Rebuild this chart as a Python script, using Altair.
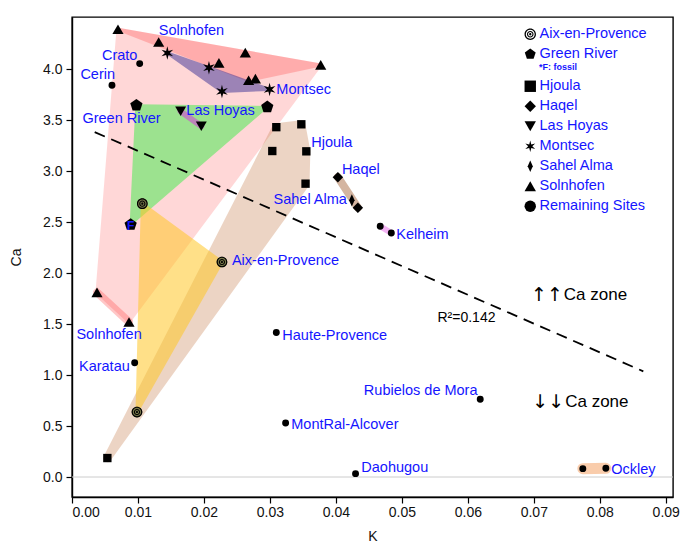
import altair as alt
import pandas as pd

FONT = "Liberation Sans"
BLUE = "#1515ff"

# ---------------- data ----------------
aix_k = [0.01066, 0.02273, 0.00985]
aix_ca = [2.68, 2.108, 0.637]

gr_k = [0.00976, 0.0296, 0.00889]
gr_ca = [3.644, 3.628, 2.474]
gr_fossil = [False, False, True]

hjoula_k = [0.03097, 0.03476, 0.03036, 0.03552, 0.0354, 0.00536]
hjoula_ca = [3.43, 3.458, 3.196, 3.193, 2.876, 0.186]

haqel_k = [0.0403, 0.04333]
haqel_ca = [2.94, 2.641]

lashoyas_k = [0.01647, 0.0196]
lashoyas_ca = [3.585, 3.44]

montsec_k = [0.01445, 0.02076, 0.02273, 0.02995]
montsec_ca = [4.157, 4.013, 3.78, 3.80]

sahel_k = [0.04242]
sahel_ca = [2.713]

soln_upper_k = [0.00697, 0.01314, 0.02627, 0.02227, 0.0377, 0.02677, 0.0278]
soln_upper_ca = [4.39, 4.265, 4.16, 4.06, 4.04, 3.89, 3.905]
soln_lower_k = [0.00379, 0.00864]
soln_lower_ca = [1.81, 1.52]

rem_names = ["Crato", "Cerin", "Karatau", "Haute-Provence", "MontRal-Alcover",
             "Daohugou", "Rubielos de Mora", "Kelheim", "Kelheim", "Ockley", "Ockley"]
rem_k = [0.01026, 0.00606, 0.0095, 0.03097, 0.03238, 0.04298, 0.06188,
         0.04672, 0.0484, 0.07743, 0.08092]
rem_ca = [4.053, 3.84, 1.121, 1.416, 0.53, 0.033, 0.762, 2.458, 2.392, 0.082, 0.085]

reg_k = [0.00344, 0.0866]
reg_ca = [3.382, 1.036]

# point labels: text, K, Ca (anchor), alignment
lab_text = ["Solnhofen", "Crato", "Cerin", "Montsec", "Green River", "Las Hoyas",
            "Hjoula", "Haqel", "Sahel Alma", "Kelheim", "Aix-en-Provence",
            "Solnhofen", "Haute-Provence", "Karatau", "MontRal-Alcover",
            "Daohugou", "Rubielos de Mora", "Ockley"]
lab_k = [0.01315, 0.00991, 0.00127, 0.03097, 0.00158, 0.01733,
         0.03627, 0.04091, 0.04167, 0.04915, 0.02424,
         0.00067, 0.03188, 0.00106, 0.03324,
         0.04385, 0.06147, 0.08173]
lab_ca = [4.369, 4.127, 3.938, 3.798, 3.514, 3.588,
          3.278, 3.014, 2.713, 2.37, 2.118,
          1.396, 1.382, 1.078, 0.507,
          0.092, 0.843, 0.066]
lab_align = ["left", "right", "left", "left", "left", "left",
             "left", "left", "right", "left", "left",
             "left", "left", "left", "left",
             "left", "right", "left"]

# zone annotations
arrow_text = ["\u2191\u2191", "\u2193\u2193"]
zone_text = ["Ca zone", "Ca zone"]
zone_k = [0.07455, 0.07476]
zone_ca = [1.781, 0.735]

legend_a = ["Aix-en-Provence", "Green River"]
legend_b = ["Hjoula", "Haqel", "Las Hoyas", "Montsec", "Sahel Alma", "Solnhofen",
            "Remaining Sites"]

# ---------------- shapes & styles ----------------
def circ(r, s):
    return f"M{r},0A{r},{r} 0 1,{s} {-r},0A{r},{r} 0 1,{s} {r},0Z"

SPIRAL = circ(1, 1) + circ(0.78, 0) + circ(0.58, 1) + circ(0.38, 0) + circ(0.2, 1)
PENTAGON = "M0,-1L0.951,-0.309L0.588,0.809L-0.588,0.809L-0.951,-0.309Z"
STAR = ("M0,-1L0.18,-0.31L0.866,-0.5L0.36,0L0.866,0.5L0.18,0.31L0,1L-0.18,0.31"
        "L-0.866,0.5L-0.36,0L-0.866,-0.5L-0.18,-0.31Z")
THIN_DIAMOND = "M0,-1L0.45,0L0,1L-0.45,0Z"

shape_of = {
    "Aix-en-Provence": SPIRAL, "Green River": PENTAGON, "Hjoula": "square",
    "Haqel": "diamond", "Las Hoyas": "triangle-down", "Montsec": STAR,
    "Sahel Alma": THIN_DIAMOND, "Solnhofen": "triangle-up", "Remaining Sites": "circle",
}
size_of = {
    "Aix-en-Provence": 115, "Green River": 165, "Hjoula": 70, "Haqel": 110,
    "Las Hoyas": 120, "Montsec": 180, "Sahel Alma": 150, "Solnhofen": 125,
    "Remaining Sites": 48,
}

# ---------------- build tables ----------------
rows = []
def add(cat, ks, cas):
    for k, c in zip(ks, cas):
        rows.append({"K": k, "Ca": c, "cat": cat, "sz": size_of[cat]})

add("Aix-en-Provence", aix_k, aix_ca)
add("Green River", gr_k, gr_ca)
add("Hjoula", hjoula_k, hjoula_ca)
add("Haqel", haqel_k, haqel_ca)
add("Las Hoyas", lashoyas_k, lashoyas_ca)
add("Montsec", montsec_k, montsec_ca)
add("Sahel Alma", sahel_k, sahel_ca)
add("Solnhofen", soln_upper_k + soln_lower_k, soln_upper_ca + soln_lower_ca)
add("Remaining Sites", rem_k, rem_ca)
pts = pd.DataFrame(rows)
pts_a = pts[pts["cat"].isin(legend_a)]
pts_b = pts[pts["cat"].isin(legend_b)]


def hull(points):
    p = sorted(set(points))
    if len(p) <= 2:
        return p
    def cross(o, a, b):
        return (a[0] - o[0]) * (b[1] - o[1]) - (a[1] - o[1]) * (b[0] - o[0])
    lo, up = [], []
    for q in p:
        while len(lo) >= 2 and cross(lo[-2], lo[-1], q) <= 0:
            lo.pop()
        lo.append(q)
    for q in reversed(p):
        while len(up) >= 2 and cross(up[-2], up[-1], q) <= 0:
            up.pop()
        up.append(q)
    h = lo[:-1] + up[:-1]
    return h + [h[0]]


groups = [
    (list(zip(soln_upper_k + soln_lower_k, soln_upper_ca + soln_lower_ca)), "#ff1a1a", 0.17, 3),
    (list(zip(soln_upper_k, soln_upper_ca)), "#ff1a1a", 0.22, 3),
    (list(zip(soln_lower_k, soln_lower_ca)), "#ff1a1a", 0.24, 8),
    (list(zip(gr_k, gr_ca)), "#6ee86e", 0.68, 2),
    (list(zip(montsec_k, montsec_ca)), "#3c3296", 0.5, 3),
    (list(zip(lashoyas_k, lashoyas_ca)), "#c46ec4", 0.8, 6),
    (list(zip(hjoula_k, hjoula_ca)), "#d2966e", 0.4, 8),
    (list(zip(aix_k, aix_ca)), "#ffc828", 0.55, 3),
    (list(zip(haqel_k, haqel_ca)), "#aa6e46", 0.5, 8),
    (list(zip(rem_k[7:9], rem_ca[7:9])), "#f2a6f2", 0.85, 6),
    (list(zip(rem_k[9:11], rem_ca[9:11])), "#f59a5a", 0.5, 11),
]

XS = alt.Scale(domain=[0, 0.0911], nice=False, zero=False)
X = alt.X("K:Q", scale=XS,
          axis=alt.Axis(values=[i / 100 for i in range(10)], format=".2f", title="K",
                        grid=False, tickSize=6, labelPadding=2, titlePadding=10))
Y = alt.Y("Ca:Q", scale=alt.Scale(domain=[-0.196, 4.51], nice=False, zero=False),
          axis=alt.Axis(values=[i / 2 for i in range(9)], format=".1f", title="Ca",
                        grid=False, tickSize=6, labelPadding=4, titlePadding=19))

layers = []
for pts_g, col, op, sw in groups:
    h = hull(pts_g)
    d = pd.DataFrame({"K": [q[0] for q in h], "Ca": [q[1] for q in h], "o": range(len(h))})
    layers.append(
        alt.Chart(d).mark_line(fill=col, stroke=col, strokeWidth=sw, opacity=op,
                               strokeJoin="round", strokeCap="round")
        .encode(x=X, y=Y, order="o:Q")
    )

zero = alt.Chart(pd.DataFrame({"Ca": [0.0]})).mark_rule(color="#cccccc", strokeWidth=1).encode(y=Y)
reg = alt.Chart(pd.DataFrame({"K": reg_k, "Ca": reg_ca})).mark_line(
    color="black", strokeWidth=1.8, strokeDash=[11, 7]).encode(x=X, y=Y)

aix_df = pts[pts["cat"] == "Aix-en-Provence"]
aix_under = alt.Chart(aix_df).mark_point(shape="circle", filled=True, color="#77774a", opacity=1).encode(
    x=X, y=Y, size=alt.Size("sz:Q", scale=None))

leg_common = dict(orient="none", title=None, labelColor=BLUE, labelFontSize=14.5,
                  labelFont=FONT, symbolSize=130, symbolFillColor="black",
                  symbolStrokeWidth=0, rowPadding=5, padding=0, labelOffset=2)

pa = alt.Chart(pts_a).mark_point(filled=True, color="black", opacity=1).encode(
    x=X, y=Y,
    shape=alt.Shape("cat:N", scale=alt.Scale(domain=legend_a, range=[shape_of[c] for c in legend_a]),
                    legend=alt.Legend(legendX=451, legendY=10, **leg_common)),
    size=alt.Size("sz:Q", scale=None))
pb = alt.Chart(pts_b).mark_point(filled=True, color="black", opacity=1).encode(
    x=X, y=Y,
    shape=alt.Shape("cat:N", scale=alt.Scale(domain=legend_b, range=[shape_of[c] for c in legend_b]),
                    legend=alt.Legend(legendX=451, legendY=62, **leg_common)),
    size=alt.Size("sz:Q", scale=None))

fossil = pd.DataFrame({"K": [k for k, f in zip(gr_k, gr_fossil) if f],
                       "Ca": [c for c, f in zip(gr_ca, gr_fossil) if f], "t": ["F"]})
fossil_t = alt.Chart(fossil).mark_text(color=BLUE, font=FONT, fontSize=12, fontWeight="bold",
                                       dy=1).encode(x=X, y=Y, text="t:N")

labs = pd.DataFrame({"t": lab_text, "K": lab_k, "Ca": lab_ca, "a": lab_align})
lab_l = alt.Chart(labs[labs["a"] == "left"]).mark_text(
    align="left", baseline="middle", color=BLUE, font=FONT, fontSize=14.5).encode(x=X, y=Y, text="t:N")
lab_r = alt.Chart(labs[labs["a"] == "right"]).mark_text(
    align="right", baseline="middle", color=BLUE, font=FONT, fontSize=14.5).encode(x=X, y=Y, text="t:N")

note_r2 = alt.Chart(pd.DataFrame({"t": ["R\u00b2=0.142"], "K": [0.0554], "Ca": [1.556]})).mark_text(
    align="left", baseline="middle", font=FONT, fontSize=14, color="black").encode(x=X, y=Y, text="t:N")
zdf = pd.DataFrame({"a": arrow_text, "t": zone_text, "K": zone_k, "Ca": zone_ca})
zone_arrows = alt.Chart(zdf).mark_text(
    align="right", baseline="middle", font="DejaVu Sans", fontSize=19, color="black", dx=-1).encode(
    x=X, y=Y, text="a:N")
zone_t = alt.Chart(zdf).mark_text(
    align="left", baseline="middle", font=FONT, fontSize=17, color="black").encode(
    x=X, y=Y, text="t:N")

fossil_note = alt.Chart(pd.DataFrame({"t": ["*F: fossil"]})).mark_text(
    align="left", baseline="middle", font=FONT, fontSize=9, fontWeight="bold", color=BLUE).encode(
    x=alt.value(467), y=alt.value(50), text="t:N")

chart = alt.layer(
    *layers, zero, reg, aix_under, pa, pb, fossil_t, lab_l, lab_r, note_r2,
    zone_arrows, zone_t, fossil_note
).resolve_scale(shape="independent").properties(
    width=601, height=480,
    background="white",
    autosize=alt.AutoSizeParams(type="none"),
    padding={"left": 64, "top": 9, "right": 19, "bottom": 49},
).configure_view(stroke="black", strokeWidth=1.4).configure_axis(
    labelFont=FONT, titleFont=FONT, labelFontSize=14, titleFontSize=14,
    titleFontWeight="normal", labelColor="#111", titleColor="#111",
    domainColor="black", domainWidth=1.4, tickColor="black", tickWidth=1.2,
)

chart.save("out.html", embed_options={"renderer": "svg", "actions": False})
